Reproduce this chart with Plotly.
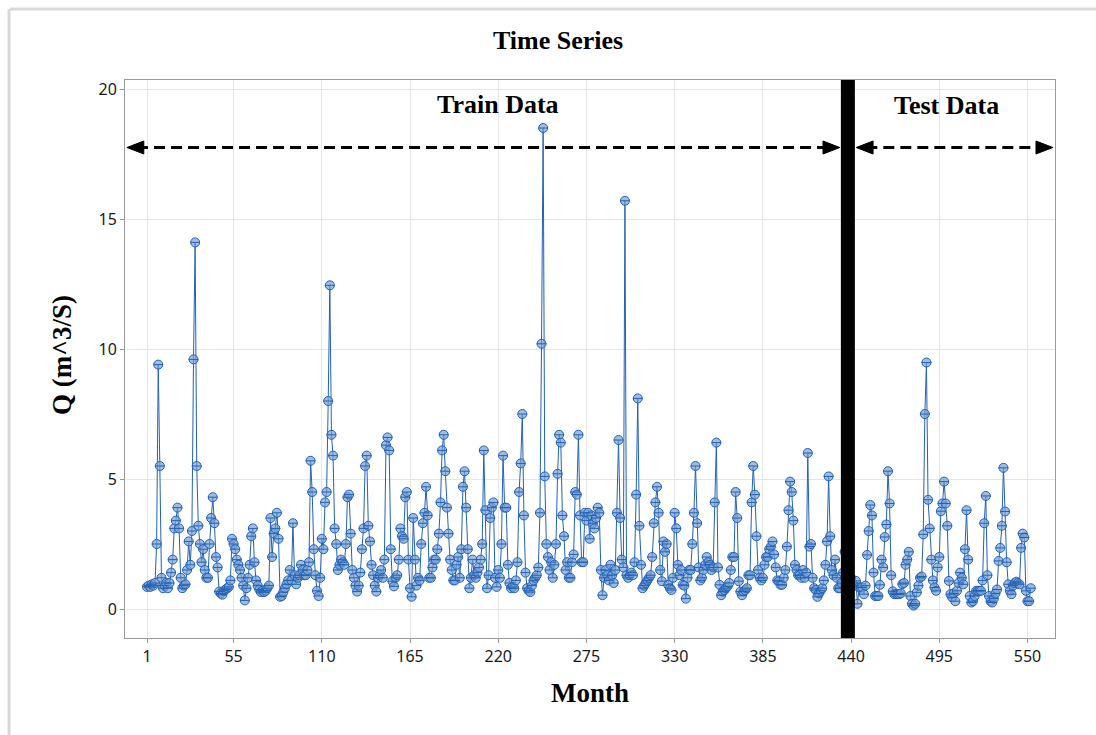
import plotly.graph_objects as go

# Monthly discharge Q (m^3/S), one row per year of 12 months.
# Months 1-440: training period
q_train = [
    0.85, 0.9, 0.85, 0.95, 0.9, 1.0, 2.5, 9.4, 5.5, 1.2, 0.8, 0.9,
    1.0, 0.8, 1.0, 1.4, 1.9, 3.1, 3.4, 3.9, 3.1, 1.2, 0.8, 0.9,
    0.95, 1.5, 2.6, 1.7, 3.0, 9.6, 14.1, 5.5, 3.2, 2.5, 1.8, 2.3,
    1.5, 1.2, 1.2, 2.5, 3.5, 4.3, 3.3, 2.0, 1.6, 0.67, 0.6, 0.55,
    0.7, 0.75, 0.8, 0.85, 1.1, 2.7, 2.5, 2.3, 1.9, 1.7, 1.5, 1.2,
    0.9, 0.33, 0.8, 1.2, 1.7, 2.8, 3.1, 1.8, 1.1, 0.9, 0.75, 0.65,
    0.7, 0.65, 0.7, 0.8, 0.9, 3.5, 2.0, 2.9, 3.1, 3.7, 2.7, 0.47,
    0.5, 0.65, 0.8, 0.95, 1.1, 1.5, 1.1, 3.3, 1.3, 0.95, 1.2, 1.3,
    1.7, 1.5, 1.3, 1.3, 1.5, 1.8, 5.7, 4.5, 2.3, 1.3, 0.7, 0.5,
    1.2, 2.7, 2.3, 4.1, 4.5, 8.0, 12.45, 6.7, 5.9, 3.1, 2.5, 1.5,
    1.7, 1.9, 1.8, 1.7, 2.5, 4.3, 4.4, 2.9, 1.5, 1.2, 0.9, 0.67,
    0.9, 1.4, 2.3, 3.1, 5.5, 5.9, 3.2, 2.6, 1.7, 1.3, 0.9, 0.67,
    1.2, 1.3, 1.5, 1.2, 1.9, 6.3, 6.6, 6.1, 2.3, 1.07, 0.87, 1.2,
    1.3, 1.9, 3.1, 2.8, 2.7, 4.3, 4.5, 1.9, 0.8, 0.47, 3.5, 1.9,
    0.9, 1.2, 1.1, 2.5, 3.3, 3.7, 4.7, 3.6, 1.2, 1.2, 1.6, 1.9,
    1.9, 2.3, 2.9, 4.1, 6.1, 6.7, 5.3, 3.9, 2.9, 1.9, 1.5, 1.1,
    1.1, 1.7, 2.0, 1.2, 2.3, 4.7, 5.3, 3.9, 2.3, 0.8, 1.2, 1.9,
    1.3, 1.2, 1.4, 1.6, 1.9, 2.5, 6.1, 3.8, 0.8, 1.3, 3.5, 3.9,
    4.1, 1.2, 0.85, 1.5, 1.2, 2.5, 5.9, 3.9, 3.9, 1.7, 1.0, 0.8,
    0.85, 0.8, 1.1, 1.8, 4.5, 5.6, 7.5, 3.6, 1.4, 0.8, 0.7, 0.65,
    0.9, 1.1, 1.2, 1.3, 1.6, 3.7, 10.2, 18.5, 5.1, 2.5, 2.0, 1.5,
    1.8, 1.2, 1.7, 2.5, 5.2, 6.7, 6.4, 3.6, 2.8, 1.5, 1.8, 1.2,
    1.2, 1.8, 2.1, 4.5, 4.4, 6.7, 3.6, 1.8, 1.8, 3.7, 3.4, 3.7,
    2.7, 3.6, 3.3, 3.1, 3.5, 3.9, 3.7, 1.5, 0.53, 1.2, 1.5, 1.3,
    1.1, 1.7, 1.3, 1.0, 1.5, 3.7, 6.5, 3.5, 1.9, 1.6, 15.7, 1.3,
    1.2, 1.3, 1.4, 1.3, 1.8, 4.4, 8.1, 3.2, 1.7, 0.8, 0.9, 1.0,
    1.1, 1.2, 1.3, 2.0, 3.3, 4.1, 4.7, 3.7, 1.5, 1.07, 2.6, 2.2,
    2.5, 0.93, 0.8, 0.73, 1.2, 3.7, 3.1, 1.7, 1.3, 1.5, 0.93, 0.9,
    0.4, 1.2, 1.5, 1.5, 2.5, 3.7, 5.5, 3.3, 1.6, 1.1, 1.2, 1.5,
    1.7, 2.0, 1.8, 1.7, 1.5, 1.6, 4.1, 6.4, 1.6, 0.93, 0.53, 0.67,
    0.73, 0.8, 0.87, 1.0, 1.5, 2.0, 2.0, 4.5, 3.5, 1.07, 0.67, 0.53,
    0.67, 0.73, 0.8, 1.3, 1.3, 4.1, 5.5, 4.4, 2.8, 1.5, 1.2, 1.1,
    1.2, 1.7, 2.0, 2.0, 2.3, 2.4, 2.6, 2.1, 1.6, 1.1, 1.07, 0.93,
    0.93, 1.2, 1.5, 2.4, 3.8, 4.9, 4.5, 3.4, 1.7, 1.5, 1.3, 1.3,
    1.2, 1.5, 1.2, 1.4, 6.0, 2.4, 2.5, 1.2, 0.8, 0.73, 0.47, 0.6,
    0.7, 0.8, 1.1, 1.7, 2.6, 5.1, 2.8, 1.5, 1.3, 1.9, 1.2, 0.8,
    0.8, 1.0, 1.4, 2.2, 3.1, 2.4, 1.6, 1.2,
]
# Months 441-552: testing period
q_test = [
    1.0, 0.9, 1.08, 0.2,
    0.83, 0.83, 0.83, 0.57, 0.9, 2.08, 3.0, 4.0, 3.6, 1.4, 0.5, 0.5,
    0.5, 0.93, 1.9, 1.6, 2.77, 3.25, 5.3, 4.06, 1.3, 0.68, 0.57, 0.57,
    0.57, 0.57, 0.6, 0.96, 1.0, 1.7, 1.9, 2.2, 0.5, 0.2, 0.13, 0.2,
    0.64, 0.9, 1.2, 1.25, 2.87, 7.5, 9.48, 4.2, 3.1, 1.9, 1.1, 0.83,
    0.7, 1.6, 2.0, 3.76, 4.06, 4.9, 4.06, 3.2, 1.08, 0.57, 0.45, 0.6,
    0.3, 0.7, 1.0, 1.4, 1.2, 0.95, 2.3, 3.8, 1.9, 0.5, 0.25, 0.3,
    0.5, 0.7, 0.7, 0.7, 0.7, 1.1, 3.3, 4.35, 1.3, 0.5, 0.3, 0.25,
    0.4, 0.6, 0.75, 1.85, 2.35, 3.2, 5.43, 3.75, 1.8, 0.95, 0.7, 0.57,
    0.9, 1.0, 1.05, 1.0, 0.95, 2.35, 2.9, 2.75, 0.7, 0.3, 0.3, 0.8,
]

x_tick_vals = [1, 55, 110, 165, 220, 275, 330, 385, 440, 495, 550]
y_tick_vals = [0, 5, 10, 15, 20]

q_all = q_train + q_test
months = list(range(1, len(q_all) + 1))

# Layout geometry
X_RANGE = [-12.72, 567.15]
Y_RANGE = [-1.115, 20.346]
DIVIDER_X = 438          # thick bar separating the two periods
ARROW_Y = 17.75
TRAIN_SPAN = (-11.5, 433.0)
TEST_SPAN = (443.2, 565.8)
HEAD_LEN = 10.5          # arrow head length in months
HEAD_HALF = 0.25         # arrow head half height in Q units

SERIF = "Liberation Serif, Times New Roman, serif"
SANS = "Noto Sans, Open Sans, sans-serif"
BLUE_LINE = "#2362b3"

fig = go.Figure()

fig.add_trace(go.Scatter(
    x=months, y=q_all, mode="lines+markers",
    line=dict(color=BLUE_LINE, width=1),
    marker=dict(symbol="circle", size=9,
                color="rgba(118,160,216,0.7)",
                line=dict(color=BLUE_LINE, width=1)),
    showlegend=False, hoverinfo="x+y",
))
# horizontal stripe inside each marker
fig.add_trace(go.Scatter(
    x=months, y=q_all, mode="markers",
    marker=dict(symbol="line-ew", size=7,
                line=dict(color=BLUE_LINE, width=1)),
    showlegend=False, hoverinfo="skip",
))


def dashed_arrow(x0, x1, y):
    shapes = [dict(type="line", xref="x", yref="y",
                   x0=x0 + HEAD_LEN * 0.6, x1=x1 - HEAD_LEN * 0.6, y0=y, y1=y,
                   line=dict(color="black", width=3, dash="11px,6px"))]
    # left-pointing head
    shapes.append(dict(
        type="path", xref="x", yref="y",
        path=f"M {x0},{y} L {x0 + HEAD_LEN},{y + HEAD_HALF} "
             f"L {x0 + HEAD_LEN},{y - HEAD_HALF} Z",
        fillcolor="black", line=dict(color="black", width=1)))
    # right-pointing head
    shapes.append(dict(
        type="path", xref="x", yref="y",
        path=f"M {x1},{y} L {x1 - HEAD_LEN},{y + HEAD_HALF} "
             f"L {x1 - HEAD_LEN},{y - HEAD_HALF} Z",
        fillcolor="black", line=dict(color="black", width=1)))
    return shapes


shapes = []
shapes += dashed_arrow(TRAIN_SPAN[0], TRAIN_SPAN[1], ARROW_Y)
shapes += dashed_arrow(TEST_SPAN[0], TEST_SPAN[1], ARROW_Y)
shapes.append(dict(type="line", xref="x", yref="paper",
                   x0=DIVIDER_X, x1=DIVIDER_X, y0=0, y1=1,
                   line=dict(color="black", width=14), layer="above"))
# light page border on top and left
shapes.append(dict(type="line", xref="paper", yref="paper",
                   x0=-0.1237, x1=1.05, y0=1.1272, y1=1.1272,
                   line=dict(color="#d9d9d9", width=3)))
shapes.append(dict(type="line", xref="paper", yref="paper",
                   x0=-0.1247, x1=-0.1247, y0=1.1272, y1=-0.2,
                   line=dict(color="#d9d9d9", width=3)))

annotations = [
    dict(text="<b>Train Data</b>", x=219.9, y=19.42, xref="x", yref="y",
         showarrow=False, font=dict(family=SERIF, size=26, color="black")),
    dict(text="<b>Test Data</b>", x=499.8, y=19.35, xref="x", yref="y",
         showarrow=False, font=dict(family=SERIF, size=26, color="black")),
    dict(text="<b>Q (m^3/S)</b>", x=(62 - 125) / 930, y=(638 - 355) / 558,
         xref="paper", yref="paper", textangle=-90, showarrow=False,
         xanchor="center", yanchor="middle",
         font=dict(family=SERIF, size=27, color="black")),
    dict(text="<b>Month</b>", x=(590 - 125) / 930, y=(638 - 693) / 558,
         xref="paper", yref="paper", showarrow=False,
         xanchor="center", yanchor="middle",
         font=dict(family=SERIF, size=27, color="black")),
]

fig.update_layout(
    width=1096, height=735,
    margin=dict(l=125, r=41, t=80, b=97),
    paper_bgcolor="white", plot_bgcolor="white",
    title=dict(text="<b>Time Series</b>", x=558 / 1096, xanchor="center",
               y=1 - 40 / 735, yanchor="middle", xref="container",
               yref="container",
               font=dict(family=SERIF, size=26, color="black")),
    shapes=shapes, annotations=annotations,
    xaxis=dict(range=X_RANGE, tickmode="array", tickvals=x_tick_vals,
               showgrid=True, gridcolor="#e6e6e6", gridwidth=1,
               zeroline=False, showline=True, linecolor="#9a9a9a",
               linewidth=1, mirror=True, ticks="outside", ticklen=4,
               tickcolor="#9a9a9a",
               tickfont=dict(family=SANS, size=16, color="#1a1a1a")),
    yaxis=dict(range=Y_RANGE, tickmode="array", tickvals=y_tick_vals,
               showgrid=True, gridcolor="#e6e6e6", gridwidth=1,
               zeroline=False, showline=True, linecolor="#9a9a9a",
               linewidth=1, mirror=True, ticks="outside", ticklen=4,
               tickcolor="#9a9a9a",
               tickfont=dict(family=SANS, size=16, color="#1a1a1a")),
)

fig.write_html("out.html")
